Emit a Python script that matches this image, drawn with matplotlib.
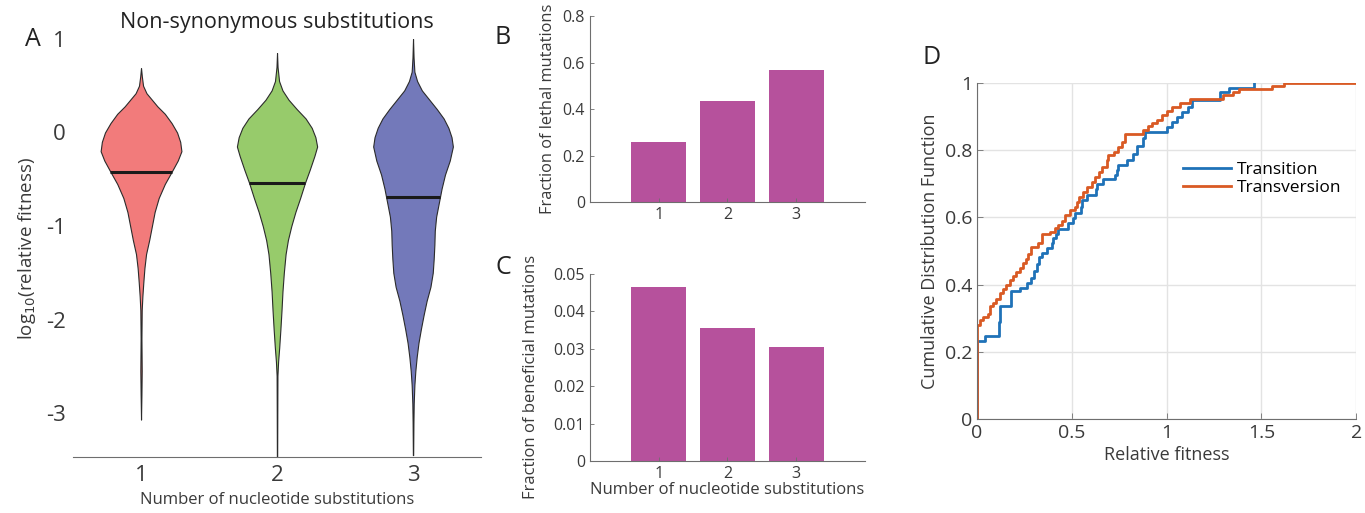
import numpy as np
from matplotlib import pyplot as plt

plt.rcParams['font.family'] = ['Open Sans', 'DejaVu Sans']

# -------------------------------
# DATA
# -------------------------------

n_subs = [1, 2, 3]

violin_colors = ["#F27B7B", "#97CB6B", "#7379BA"]

# violin outlines: log10 fitness level and half width of the violin
v1_y = [0.69, 0.6, 0.5, 0.42, 0.35, 0.28, 0.2, 0.1, 0.0, -0.1, -0.2, -0.3, -0.42, -0.55,
        -0.7, -0.85, -1.0, -1.15, -1.3, -1.45, -1.6, -1.75, -1.9, -2.2, -2.55, -2.8, -3.07]
v1_w = [0.0, 0.006, 0.015, 0.04, 0.08, 0.12, 0.175, 0.225, 0.265, 0.288, 0.297, 0.27, 0.225, 0.175,
        0.13, 0.1, 0.08, 0.06, 0.037, 0.025, 0.017, 0.01, 0.005, 0.003, 0.005, 0.003, 0.0]

v2_y = [0.85, 0.7, 0.55, 0.45, 0.35, 0.25, 0.15, 0.05, -0.05, -0.15, -0.25, -0.4, -0.54, -0.7,
        -0.85, -1.0, -1.15, -1.3, -1.5, -1.7, -1.9, -2.1, -2.3, -2.45, -2.6, -3.0, -3.47]
v2_w = [0.0, 0.004, 0.015, 0.04, 0.085, 0.145, 0.21, 0.255, 0.282, 0.295, 0.275, 0.24, 0.205, 0.17,
        0.135, 0.105, 0.08, 0.063, 0.05, 0.04, 0.033, 0.025, 0.016, 0.008, 0.003, 0.002, 0.001]

v3_y = [1.0, 0.8, 0.65, 0.55, 0.45, 0.35, 0.25, 0.15, 0.05, -0.05, -0.15, -0.3, -0.45, -0.6, -0.75,
        -0.9, -1.05, -1.2, -1.35, -1.5, -1.65, -1.8, -1.95, -2.1, -2.25, -2.4, -2.55, -2.7, -2.9,
        -3.1, -3.45]
v3_w = [0.0, 0.004, 0.01, 0.03, 0.065, 0.12, 0.175, 0.225, 0.26, 0.283, 0.293, 0.27, 0.235, 0.21, 0.19,
        0.17, 0.16, 0.157, 0.152, 0.145, 0.128, 0.1, 0.078, 0.058, 0.04, 0.027, 0.017, 0.01, 0.005,
        0.003, 0.001]

medians = [-0.42, -0.54, -0.69]

lethal_frac = [0.26, 0.434, 0.567]
beneficial_frac = [0.0465, 0.0355, 0.0304]

# CDF steps (x where the step happens, level after the step)
transition_x = [0.0, 0.0, 0.044, 0.115, 0.123, 0.181, 0.226, 0.261, 0.287, 0.30, 0.314, 0.326,
                0.34, 0.367, 0.393, 0.402, 0.416, 0.428, 0.481, 0.507, 0.516, 0.546, 0.552,
                0.578, 0.627, 0.631, 0.666, 0.728, 0.737, 0.745, 0.789, 0.825, 0.842, 0.877,
                0.886, 1.0, 1.027, 1.054, 1.08, 1.115, 1.133, 1.28, 1.33, 1.46]
transition_y = [0.0, 0.233, 0.248, 0.29, 0.335, 0.38, 0.39, 0.404, 0.419, 0.44, 0.46, 0.483,
                0.495, 0.508, 0.525, 0.538, 0.552, 0.565, 0.582, 0.597, 0.612, 0.632, 0.653,
                0.668, 0.686, 0.699, 0.713, 0.726, 0.74, 0.755, 0.772, 0.79, 0.812, 0.835,
                0.854, 0.87, 0.884, 0.899, 0.914, 0.929, 0.949, 0.974, 0.986, 1.0]

transversion_x = [0.0, 0.0, 0.014, 0.032, 0.058, 0.07, 0.085, 0.102, 0.12, 0.137, 0.155, 0.173,
                  0.19, 0.204, 0.226, 0.243, 0.257, 0.27, 0.287, 0.322, 0.34, 0.384, 0.41,
                  0.428, 0.446, 0.463, 0.49, 0.516, 0.525, 0.539, 0.56, 0.578, 0.604, 0.622,
                  0.645, 0.657, 0.684, 0.692, 0.722, 0.745, 0.763, 0.78, 0.877, 0.904, 0.922,
                  0.948, 0.975, 1.0, 1.027, 1.071, 1.124, 1.30, 1.35, 1.38, 1.555, 1.617, 2.0]
transversion_y = [0.0, 0.28, 0.295, 0.305, 0.313, 0.335, 0.345, 0.356, 0.374, 0.386, 0.399, 0.414,
                  0.426, 0.439, 0.449, 0.463, 0.475, 0.491, 0.511, 0.523, 0.552, 0.557, 0.567,
                  0.577, 0.59, 0.607, 0.622, 0.632, 0.647, 0.661, 0.676, 0.691, 0.706, 0.719,
                  0.736, 0.75, 0.77, 0.785, 0.795, 0.81, 0.825, 0.848, 0.859, 0.871, 0.881,
                  0.891, 0.904, 0.917, 0.929, 0.941, 0.953, 0.963, 0.974, 0.982, 0.99, 0.999, 0.999]

# -------------------------------
# FIGURE
# -------------------------------

text_col = "#3a3a3a"
spine_col = "#6e6e6e"

fig = plt.figure(figsize=(13.65, 5.13), dpi=100)

# -------------------------------
# A: VIOLINS
# -------------------------------

axA = fig.add_axes([0.0535, 0.1092, 0.2989, 0.8148])

profiles = [(v1_y, v1_w), (v2_y, v2_w), (v3_y, v3_w)]

for pos, (ys, ws), col, med in zip(n_subs, profiles, violin_colors, medians):
    ys = np.array(ys)
    ws = np.array(ws)
    axA.fill_betweenx(ys, pos - ws, pos + ws, facecolor=col, edgecolor="#2b2b2b",
                      linewidth=0.8, clip_on=False)
    half = np.interp(med, ys[::-1], ws[::-1])
    axA.plot([pos - half, pos + half], [med, med], color="#1a1a1a", lw=2.2, solid_capstyle="butt")

axA.set_xlim(0.5, 3.5)
axA.set_ylim(-3.47, 1.0)
axA.set_xticks(n_subs)
axA.set_yticks([-3, -2, -1, 0, 1])
axA.set_yticklabels(["-3", "-2", "-1", "0", "1"])
for s in ["top", "right", "left"]:
    axA.spines[s].set_visible(False)
axA.spines["bottom"].set_color(spine_col)
axA.tick_params(axis="both", length=0, labelsize=16, colors=text_col, pad=5)
axA.tick_params(axis="x", pad=6)
axA.set_xlabel("Number of nucleotide substitutions", fontsize=12, color=text_col, labelpad=4)
axA.set_ylabel("log$_{10}$(relative fitness)", fontsize=13.5, color=text_col, labelpad=6)
axA.set_title("Non-synonymous substitutions", fontsize=15.5, color="#222222", pad=8)

fig.text(33 / 1365, 1 - 40 / 513, "A", fontsize=18, color="#222222", ha="center", va="center")

# -------------------------------
# B & C: BAR CHARTS
# -------------------------------

bar_col = "#B6519C"

axB = fig.add_axes([0.4322, 0.6062, 0.2015, 0.3626])
axB.bar(n_subs, lethal_frac, width=0.8, color=bar_col)
axB.set_xlim(0, 4)
axB.set_ylim(0, 0.8)
axB.set_yticks([0, 0.2, 0.4, 0.6, 0.8])
axB.set_yticklabels(["0", "0.2", "0.4", "0.6", "0.8"])
axB.set_ylabel("Fraction of lethal mutations", fontsize=11.8, color=text_col, labelpad=5)

axC = fig.add_axes([0.4322, 0.1014, 0.2015, 0.3645])
axC.bar(n_subs, beneficial_frac, width=0.8, color=bar_col)
axC.set_xlim(0, 4)
axC.set_ylim(0, 0.05)
axC.set_yticks([0, 0.01, 0.02, 0.03, 0.04, 0.05])
axC.set_yticklabels(["0", "0.01", "0.02", "0.03", "0.04", "0.05"])
axC.set_ylabel("Fraction of beneficial mutations", fontsize=12, color=text_col, labelpad=5)
axC.yaxis.set_label_coords(-0.185, 0.45)
axC.set_xlabel("Number of nucleotide substitutions", fontsize=12, color=text_col, labelpad=0)

for ax in [axB, axC]:
    ax.set_xticks(n_subs)
    for s in ["top", "right"]:
        ax.spines[s].set_visible(False)
    ax.spines["left"].set_color(spine_col)
    ax.spines["bottom"].set_color(spine_col)
    ax.tick_params(axis="both", direction="in", length=3, width=0.6, colors=spine_col,
                   labelcolor=text_col, labelsize=11.5)

fig.text(503 / 1365, 1 - 37 / 513, "B", fontsize=18, color="#222222", ha="center", va="center")
fig.text(503 / 1365, 1 - 267 / 513, "C", fontsize=18, color="#222222", ha="center", va="center")

# -------------------------------
# D: CDF
# -------------------------------

axD = fig.add_axes([0.7158, 0.1832, 0.2777, 0.655])
axD.step(transition_x, transition_y, where="post", color="#1F72B8", lw=2, label="Transition")
axD.step(transversion_x, transversion_y, where="post", color="#D95A24", lw=2, label="Transversion")
axD.set_xlim(0, 2)
axD.set_ylim(0, 1)
axD.set_xticks([0, 0.5, 1, 1.5, 2])
axD.set_xticklabels(["0", "0.5", "1", "1.5", "2"])
axD.set_yticks([0, 0.2, 0.4, 0.6, 0.8, 1])
axD.set_yticklabels(["0", "0.2", "0.4", "0.6", "0.8", "1"])
axD.grid(True, color="#e3e3e3", lw=1)
axD.set_axisbelow(True)
for s in ["top", "right"]:
    axD.spines[s].set_visible(False)
axD.spines["left"].set_color(spine_col)
axD.spines["bottom"].set_color(spine_col)
axD.tick_params(axis="both", direction="in", length=4, width=0.6, colors=spine_col,
                labelcolor=text_col, labelsize=14)
axD.set_xlabel("Relative fitness", fontsize=13, color=text_col, labelpad=3)
axD.set_ylabel("Cumulative Distribution Function", fontsize=13, color=text_col, labelpad=4)
axD.legend(loc="upper left", bbox_to_anchor=(0.52, 0.79), frameon=False, fontsize=12.5,
           handlelength=2.8, handletextpad=0.3, labelspacing=0.1, borderpad=0)

fig.text(932 / 1365, 1 - 58 / 513, "D", fontsize=18, color="#222222", ha="center", va="center")

plt.savefig("out.png", dpi=100)
